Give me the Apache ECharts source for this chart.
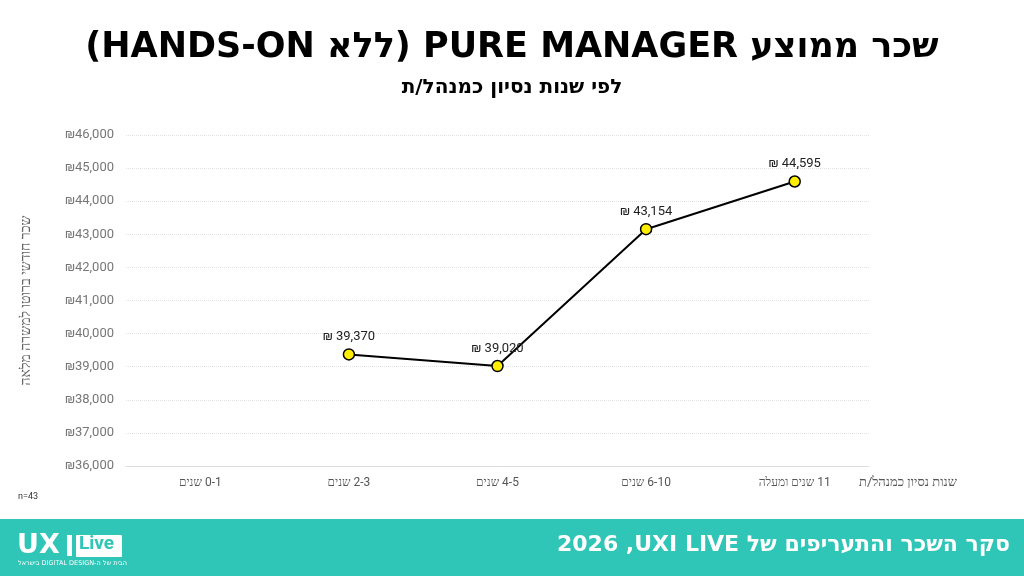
<!DOCTYPE html>
<html>
<head>
<meta charset="utf-8">
<title>שכר ממוצע PURE MANAGER</title>
<script src="https://cdn.jsdelivr.net/npm/echarts@6/dist/echarts.min.js"></script>
<style>
  html, body { margin: 0; padding: 0; background: #fff; }
  #chart { width: 1024px; height: 576px; }
</style>
</head>
<body>
<div id="chart"></div>
<script>
// data
const categories = ['0-1 שנים', '2-3 שנים', '4-5 שנים', '6-10 שנים', '11 שנים ומעלה'];
const salaries = [null, 39370, 39020, 43154, 44595];
const yMin = 36000;
const yMax = 46000;
const yStep = 1000;

// bidi helpers: right-to-left embedding, and a right-to-left mark
const RLE = '\u202B', PDF = '\u202C', RLM = '\u200F';
const rtl = s => RLE + s + PDF;

const titleText = 'שכר ממוצע PURE MANAGER (ללא HANDS-ON)';
const subTitleText = 'לפי שנות נסיון כמנהל/ת';
const footerText = 'סקר השכר והתעריפים של UXI LIVE' + RLM + ', 2026';
const teal = '#2fc5b7';

function fmt(v) {
    return v.toLocaleString('en-US');
}

const myChart = echarts.init(document.getElementById('chart'));

const option = {
    backgroundColor: '#fff',
    animation: false,
    title: [
        {
            text: rtl(titleText),
            left: 'center', top: 25,
            textStyle: { fontFamily: 'DejaVu Sans', fontWeight: 900, fontSize: 35, color: '#000' }
        },
        {
            text: rtl(subTitleText),
            left: 'center', top: 73,
            textStyle: { fontFamily: 'DejaVu Sans', fontWeight: 'bold', fontSize: 20, color: '#000' }
        }
    ],
    grid: { left: 126, right: 155, top: 135, bottom: 110, containLabel: false },
    xAxis: {
        type: 'category',
        data: categories,
        boundaryGap: true,
        name: rtl('שנות נסיון כמנהל/ת'),
        nameLocation: 'end',
        nameGap: -10,
        nameTextStyle: {
            color: '#555', fontSize: 13, fontFamily: 'Roboto',
            verticalAlign: 'top', align: 'left', padding: [10, 0, 0, 0]
        },
        axisLine: { lineStyle: { color: '#dddddd', width: 1 } },
        axisTick: { show: false },
        axisLabel: {
            color: '#555', fontSize: 12, fontFamily: 'Roboto', margin: 11,
            formatter: v => rtl(v)
        }
    },
    yAxis: {
        type: 'value',
        min: yMin, max: yMax, interval: yStep,
        name: 'שכר חודשי ברוטו למשרה מלאה',
        nameLocation: 'middle',
        nameGap: 93,
        nameTextStyle: { color: '#666', fontSize: 14, fontFamily: 'Roboto' },
        axisLine: { show: false },
        axisTick: { show: false },
        axisLabel: {
            color: '#777', fontSize: 13, fontFamily: 'Roboto', margin: 12,
            formatter: v => '₪' + fmt(v)
        },
        splitLine: { lineStyle: { color: '#e2e2e2', type: 'dotted', width: 1 } }
    },
    series: [{
        type: 'line',
        data: salaries,
        connectNulls: false,
        symbol: 'circle',
        symbolSize: 11,
        lineStyle: { color: '#000', width: 2 },
        itemStyle: { color: '#ffee00', borderColor: '#000', borderWidth: 1.5 },
        label: {
            show: true, position: 'top', distance: 5,
            color: '#222', fontSize: 13, fontFamily: 'Roboto',
            formatter: p => '₪ ' + fmt(p.value)
        }
    }],
    graphic: [
        { type: 'text', left: 18, top: 492, style: { text: 'n=43', fontSize: 9, fill: '#333', fontFamily: 'Roboto' } },
        { type: 'rect', left: 0, top: 519, shape: { width: 1024, height: 57 }, style: { fill: teal }, z: 0 },
        // logo
        { type: 'text', left: 17, top: 532, style: { text: 'UX', fontSize: 27, fontWeight: 900, fill: '#fff', fontFamily: 'DejaVu Sans' }, z: 1 },
        { type: 'rect', left: 67, top: 535, shape: { width: 5, height: 21 }, style: { fill: '#fff' }, z: 1 },
        { type: 'rect', left: 76, top: 535, shape: { width: 46, height: 22, r: 1 }, style: { fill: '#fff' }, z: 1 },
        { type: 'text', left: 79, top: 535, style: { text: 'Live', fontSize: 19, fontWeight: 'bold', fill: teal, fontFamily: 'Roboto' }, z: 2 },
        { type: 'text', left: 18, top: 560, style: { text: rtl('הבית של ה-DIGITAL DESIGN בישראל'), fontSize: 6.5, fill: '#fff', fontFamily: 'DejaVu Sans' }, z: 1 },
        // footer title
        {
            type: 'text', right: 14, top: 534,
            style: { text: rtl(footerText), fontSize: 22, fontWeight: 'bold', fill: '#fff', fontFamily: 'DejaVu Sans' },
            z: 1
        }
    ]
};

myChart.setOption(option);
window.addEventListener('resize', () => myChart.resize());
</script>
</body>
</html>
